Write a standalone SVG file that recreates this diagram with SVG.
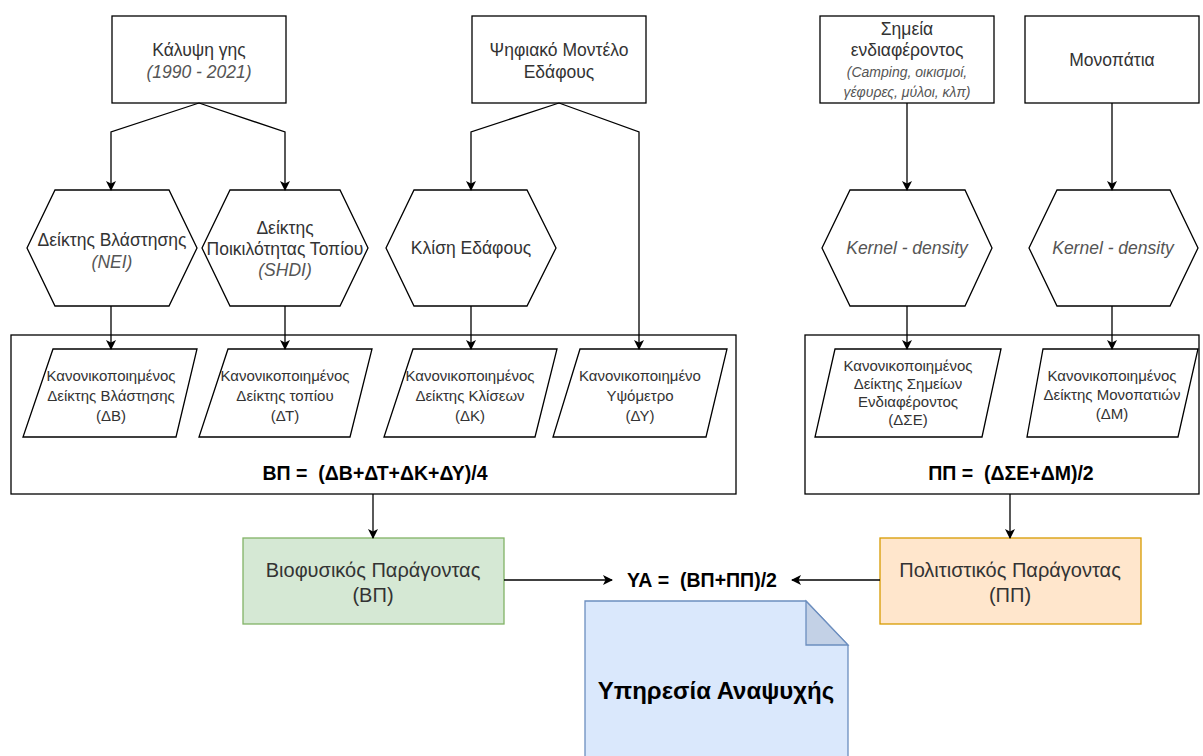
<svg xmlns="http://www.w3.org/2000/svg" width="1203" height="756" viewBox="0 0 1203 756">
<defs>
<marker id="arr" viewBox="0 0 10 10" refX="9" refY="5" markerWidth="10" markerHeight="10" markerUnits="userSpaceOnUse" orient="auto">
<path d="M0,0 L10,5 L0,10 L2.5,5 Z" fill="#000"/>
</marker>
<style>
.b{fill:#fff;stroke:#000;stroke-width:1.3}
.c{fill:none;stroke:#000;stroke-width:1.3;marker-end:url(#arr)}
text{font-family:"Liberation Sans",Arial,sans-serif;fill:#333;text-anchor:middle;dominant-baseline:central}
.t17{font-size:17.5px}
.t15{font-size:15px}
.t20{font-size:20px}
.it{font-style:italic;fill:#555}
.bold{font-weight:bold;fill:#000}
.f{font-size:19.5px;white-space:pre}
</style>
</defs>
<rect width="1203" height="756" fill="#fff"/>

<g id="containers">
<rect id="bp-container" class="b" x="11" y="335" width="725" height="159"/>
<rect id="pp-container" class="b" x="805" y="335" width="394" height="159"/>
<text class="bold f" x="375" y="473" xml:space="preserve">ΒΠ =  (ΔΒ+ΔΤ+ΔΚ+ΔΥ)/4</text>
<text class="bold f" x="1011" y="473" xml:space="preserve">ΠΠ =  (ΔΣΕ+ΔΜ)/2</text>
</g>

<g id="kalypsi">
<rect class="b" x="112" y="16" width="174" height="87"/>
<text class="t17" x="199" y="50">Κάλυψη γης</text>
<text class="t17 it" x="199" y="72">(1990 - 2021)</text>
</g>
<g id="dem">
<rect class="b" x="472" y="16" width="174" height="87"/>
<text class="t17" x="559" y="50">Ψηφιακό Μοντέλο</text>
<text class="t17" x="559" y="72">Εδάφους</text>
</g>
<g id="simeia">
<rect class="b" x="820" y="16" width="174" height="87"/>
<text class="t17" x="907" y="29">Σημεία</text>
<text class="t17" x="907" y="50">ενδιαφέροντος</text>
<text class="it" font-size="14" x="907" y="72">(Camping, οικισμοί,</text>
<text class="it" font-size="14" x="907" y="92">γέφυρες, μύλοι, κλπ)</text>
</g>
<g id="monopatia">
<rect class="b" x="1025" y="16" width="174" height="87"/>
<text class="t17" x="1112" y="60">Μονοπάτια</text>
</g>

<g id="hex-nei">
<polygon class="b" points="27,248 55,190 169,190 197,248 169,306 55,306"/>
<text class="t17" x="112" y="240">Δείκτης Βλάστησης</text>
<text class="t17 it" x="112" y="262">(NEI)</text>
</g>
<g id="hex-shdi">
<polygon class="b" points="202,248 230,190 340,190 368,248 340,306 230,306"/>
<text class="t17" x="285" y="228">Δείκτης</text>
<text class="t17" x="285" y="249">Ποικιλότητας Τοπίου</text>
<text class="t17 it" x="285" y="270">(SHDI)</text>
</g>
<g id="hex-klisi">
<polygon class="b" points="386,248 414,190 527,190 556,248 527,306 414,306"/>
<text class="t17" x="471" y="248">Κλίση Εδάφους</text>
</g>
<g id="hex-kernel1">
<polygon class="b" points="822,248 850,190 965,190 992,248 965,306 850,306"/>
<text class="t17 it" x="907" y="248">Kernel - density</text>
</g>
<g id="hex-kernel2">
<polygon class="b" points="1029,248 1057,190 1170,190 1198,248 1170,306 1057,306"/>
<text class="t17 it" x="1113" y="248">Kernel - density</text>
</g>

<g id="para-db">
<polygon class="b" points="53,349 197,349 176,437 23,437"/>
<text class="t15" x="111" y="375">Κανονικοποιημένος</text>
<text class="t15" x="111" y="395">Δείκτης Βλάστησης</text>
<text class="t15" x="111" y="415">(ΔΒ)</text>
</g>
<g id="para-dt">
<polygon class="b" points="228,349 372,349 350,437 199,437"/>
<text class="t15" x="285" y="375">Κανονικοποιημένος</text>
<text class="t15" x="285" y="395">Δείκτης τοπίου</text>
<text class="t15" x="285" y="415">(ΔΤ)</text>
</g>
<g id="para-dk">
<polygon class="b" points="413,349 557,349 535,437 384,437"/>
<text class="t15" x="470" y="375">Κανονικοποιημένος</text>
<text class="t15" x="470" y="395">Δείκτης Κλίσεων</text>
<text class="t15" x="470" y="415">(ΔΚ)</text>
</g>
<g id="para-dy">
<polygon class="b" points="580,349 727,349 706,437 553,437"/>
<text class="t15" x="640" y="375">Κανονικοποιημένο</text>
<text class="t15" x="640" y="395">Υψόμετρο</text>
<text class="t15" x="640" y="415">(ΔΥ)</text>
</g>
<g id="para-dse">
<polygon class="b" points="835,349 1001,349 982,437 815,437"/>
<text class="t15" x="908" y="365">Κανονικοποιημένος</text>
<text class="t15" x="908" y="383">Δείκτης Σημείων</text>
<text class="t15" x="908" y="401">Ενδιαφέροντος</text>
<text class="t15" x="908" y="419">(ΔΣΕ)</text>
</g>
<g id="para-dm">
<polygon class="b" points="1043,349 1198,349 1178,437 1027,437"/>
<text class="t15" x="1112" y="375">Κανονικοποιημένος</text>
<text class="t15" x="1112" y="394">Δείκτης Μονοπατιών</text>
<text class="t15" x="1112" y="413">(ΔΜ)</text>
</g>

<g id="biofysikos">
<rect x="243" y="538" width="261" height="86" fill="#d5e8d4" stroke="#82b366" stroke-width="1.3"/>
<text class="t20" x="373" y="570">Βιοφυσικός Παράγοντας</text>
<text class="t20" x="373" y="595">(ΒΠ)</text>
</g>
<g id="politistikos">
<rect x="880" y="538" width="261" height="86" fill="#ffe6cc" stroke="#d79b00" stroke-width="1.3"/>
<text class="t20" x="1010" y="570">Πολιτιστικός Παράγοντας</text>
<text class="t20" x="1010" y="595">(ΠΠ)</text>
</g>
<g id="ya-formula">
<text class="bold f" x="702" y="580" xml:space="preserve">ΥΑ =  (ΒΠ+ΠΠ)/2</text>
</g>
<g id="ypiresia">
<path d="M585,601 L806,601 L848,645 L848,760 L585,760 Z" fill="#dae8fc" stroke="#6c8ebf" stroke-width="1.3"/>
<path d="M806,601 L806,645 L848,645 Z" fill="#c3d1e6" stroke="#6c8ebf" stroke-width="1.3"/>
<text class="bold" x="716" y="690" font-size="24">Υπηρεσία Αναψυχής</text>
</g>

<g id="connectors">
<path class="c" d="M199,103 L111,132 L111,190"/>
<path class="c" d="M199,103 L285,132 L285,190"/>
<path class="c" d="M559,103 L471,132 L471,190"/>
<path class="c" d="M559,103 L639,132 L639,349"/>
<path class="c" d="M907,103 L907,190"/>
<path class="c" d="M1112,103 L1112,190"/>
<path class="c" d="M111,306 L111,349"/>
<path class="c" d="M285,306 L285,349"/>
<path class="c" d="M471,306 L471,349"/>
<path class="c" d="M907,306 L907,349"/>
<path class="c" d="M1112,306 L1112,349"/>
<path class="c" d="M373,494 L373,538"/>
<path class="c" d="M1010,494 L1010,538"/>
<path class="c" d="M504,580 L612,580"/>
<path class="c" d="M880,580 L792,580"/>
</g>
</svg>
